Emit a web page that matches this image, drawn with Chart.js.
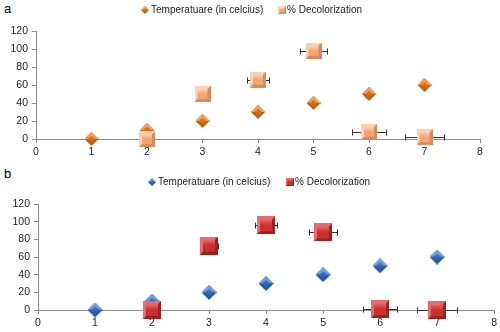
<!DOCTYPE html>
<html><head><meta charset="utf-8">
<script src="https://cdn.jsdelivr.net/npm/chart.js@4/dist/chart.umd.min.js"></script>
<style>
html,body{margin:0;padding:0;background:#fff;}
body{width:500px;height:332px;position:relative;overflow:hidden;font-family:"Liberation Sans",Arial,sans-serif;}
.wrap{position:absolute;left:0;width:500px;height:166px;}
.lbl{position:absolute;font-size:13px;color:#000;}
.leg{position:absolute;font-size:10px;color:#222;white-space:nowrap;}
.leg canvas{position:absolute;}
</style></head><body>
<div class="lbl" style="left:4px;top:1px;">a</div>
<div class="lbl" style="left:4px;top:166px;">b</div>
<div class="wrap" style="top:0"><canvas id="c1" width="500" height="166"></canvas></div>
<div class="wrap" style="top:166px"><canvas id="c2" width="500" height="166"></canvas></div>
<div class="leg" id="legA"></div>
<div class="leg" id="legB"></div>
<script>
// ---- data ----
const xTicks = [0,1,2,3,4,5,6,7,8];
const yTicks = [0,20,40,60,80,100,120];
const seriesNames = ["Temperatuare (in celcius)", "% Decolorization"];
const tempX = [1,2,3,4,5,6,7];
const tempY = [0,10,20,30,40,50,60];
const decolX = [2,3,4,5,6,7];
const decolA = [0,50,66,98,8,2];
const errA   = [0.05,0.07,0.2,0.25,0.3,0.35];
const decolB = [0,73,96,88,1,0];
const errB   = [0.05,0.15,0.2,0.25,0.3,0.35];

function makeSquare(s, light, mid, dark){
  const c=document.createElement('canvas'); c.width=s; c.height=s;
  const g=c.getContext('2d');
  g.fillStyle=dark; g.fillRect(0,0,s,s);
  const b=Math.max(2,Math.round(s*0.16));
  g.fillStyle=light;
  g.beginPath(); g.moveTo(0,0); g.lineTo(s,0); g.lineTo(s-b,b); g.lineTo(b,b); g.lineTo(b,s-b); g.lineTo(0,s); g.closePath(); g.fill();
  const gr=g.createLinearGradient(0,b,0,s-b); gr.addColorStop(0,light); gr.addColorStop(0.5,mid); gr.addColorStop(1,mid);
  g.fillStyle=gr; g.fillRect(b,b,s-2*b,s-2*b);
  return c;
}
function makeDiamond(s, light, mid, dark){
  const c=document.createElement('canvas'); c.width=s; c.height=s;
  const g=c.getContext('2d'); const h=s/2;
  g.fillStyle=dark;
  g.beginPath(); g.moveTo(h,0); g.lineTo(s,h); g.lineTo(h,s); g.lineTo(0,h); g.closePath(); g.fill();
  g.fillStyle=light;
  g.beginPath(); g.moveTo(h,0); g.lineTo(s,h); g.lineTo(0,h); g.closePath(); g.fill();
  const gr=g.createLinearGradient(0,h*0.6,0,s); gr.addColorStop(0,mid); gr.addColorStop(1,dark);
  g.fillStyle=gr;
  g.beginPath(); g.moveTo(h,h*0.55); g.lineTo(s-h*0.45,h); g.lineTo(h,s-h*0.2); g.lineTo(h*0.45,h); g.closePath(); g.fill();
  return c;
}

const imgs = {
  dA: makeDiamond(14,'#f3a050','#e07a22','#b85a12'),
  sA: makeSquare(16,'#fbd3b0','#f4a472','#d98a58'),
  dB: makeDiamond(15,'#6e9ee0','#3a74c6','#234f96'),
  sB: makeSquare(18,'#e86a6a','#cc2f2f','#a21e1e')
};

const errPlugin = {
  id:'errbars',
  beforeDatasetsDraw(chart, args, opts){
    const ctx=chart.ctx, xs=chart.scales.x, ys=chart.scales.y;
    const ds=chart.data.datasets[opts.idx];
    ctx.save(); ctx.strokeStyle='#333'; ctx.lineWidth=1;
    ds.data.forEach((p,i)=>{
      const e=opts.err[i];
      const x1=xs.getPixelForValue(p.x-e), x2=xs.getPixelForValue(p.x+e), y=Math.round(ys.getPixelForValue(p.y))+0.5;
      ctx.beginPath(); ctx.moveTo(x1,y); ctx.lineTo(x2,y);
      ctx.moveTo(Math.round(x1)+0.5,y-3); ctx.lineTo(Math.round(x1)+0.5,y+3);
      ctx.moveTo(Math.round(x2)+0.5,y-3); ctx.lineTo(Math.round(x2)+0.5,y+3);
      ctx.stroke();
    });
    ctx.restore();
  }
};

function build(id, decol, err, dImg, sImg, pad, xH){
  return new Chart(document.getElementById(id), {
    type:'scatter',
    data:{datasets:[
      {label:seriesNames[0], data:tempX.map((x,i)=>({x, y:tempY[i]})), pointStyle:dImg, order:1, clip:false},
      {label:seriesNames[1], data:decolX.map((x,i)=>({x, y:decol[i]})), pointStyle:sImg, order:0, clip:false}
    ]},
    options:{
      responsive:false, animation:false, devicePixelRatio:1,
      layout:{padding:pad},
      plugins:{legend:{display:false}, tooltip:{enabled:false}, errbars:{idx:1, err}},
      scales:{
        x:{type:'linear', min:0, max:8, afterBuildTicks:s=>{s.ticks=xTicks.map(v=>({value:v}));},
          afterFit:s=>{s.height=xH;},
          grid:{display:true, drawOnChartArea:false, drawTicks:true, tickLength:4, color:'#8c8c8c'},
          border:{color:'#8c8c8c'},
          ticks:{color:'#222', font:{family:'Liberation Sans', size:10.5}, padding:3, maxRotation:0}},
        y:{type:'linear', min:0, max:120, afterBuildTicks:s=>{s.ticks=yTicks.map(v=>({value:v}));},
          afterFit:s=>{s.width=pad.yW;},
          grid:{display:true, drawOnChartArea:false, drawTicks:true, tickLength:4, color:'#8c8c8c'},
          border:{color:'#8c8c8c'},
          ticks:{color:'#222', font:{family:'Liberation Sans', size:10.5}, padding:4}}
      }
    },
    plugins:[errPlugin]
  });
}
build('c1', decolA, errA, imgs.dA, imgs.sA, {top:31,right:20,left:0,bottom:0,yW:36}, 27);
build('c2', decolB, errB, imgs.dB, imgs.sB, {top:38,right:5,left:0,bottom:0,yW:38}, 22);

function legend(el, left, top, dImg, sImg, gap){
  const d=document.getElementById(el);
  d.style.left=left+'px'; d.style.top=top+'px';
  d.innerHTML='';
  const mk=(img,x,sz)=>{const c=document.createElement('canvas');c.width=sz;c.height=sz;c.getContext('2d').drawImage(img,0,0,sz,sz);c.style.left=x+'px';c.style.top=(6-sz/2)+'px';return c;};
  d.appendChild(mk(dImg,0,8));
  const t1=document.createElement('span'); t1.textContent=seriesNames[0]; t1.style.cssText='position:absolute;left:10px;top:0;';
  d.appendChild(t1);
  d.appendChild(mk(sImg,gap,8));
  const t2=document.createElement('span'); t2.textContent=seriesNames[1]; t2.style.cssText='position:absolute;left:'+(gap+9)+'px;top:0;';
  d.appendChild(t2);
}
legend('legA',141,4,imgs.dA,imgs.sA,137);
legend('legB',148,176,imgs.dB,imgs.sB,138);
</script>
</body></html>
